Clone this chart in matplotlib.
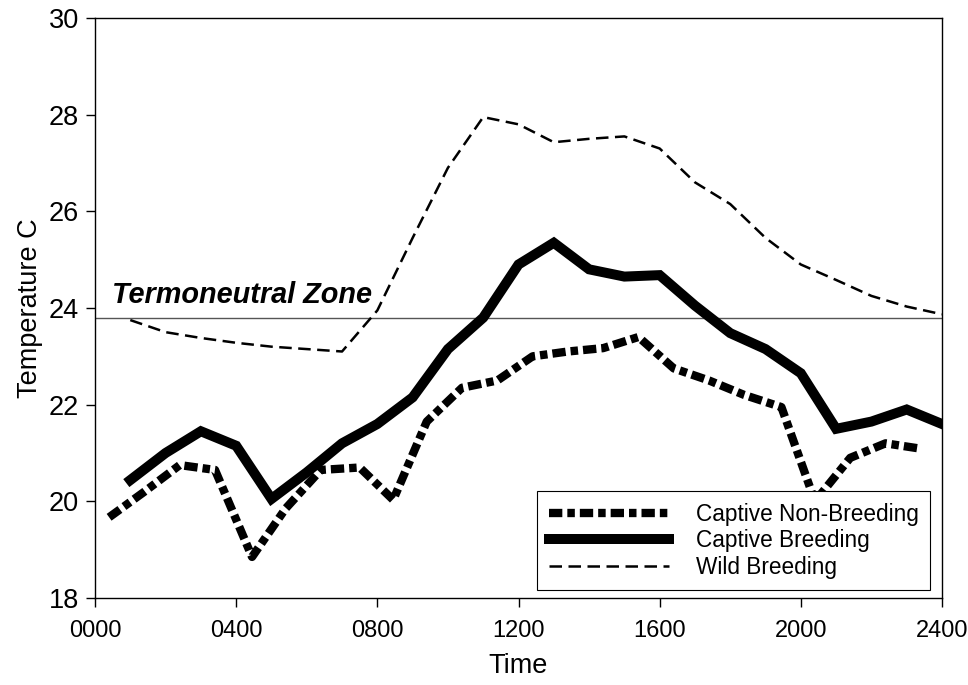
import matplotlib
matplotlib.use("Agg")
import matplotlib.pyplot as plt
from matplotlib.ticker import FixedLocator
from matplotlib import font_manager

# ---- data (hours of day) ----
hours = [1, 2, 3, 4, 5, 6, 7, 8, 9, 10, 11, 12, 13, 14, 15, 16, 17, 18, 19, 20, 21, 22, 23, 24]
wild_breeding = [23.75, 23.5, 23.38, 23.28, 23.2, 23.15, 23.1, 23.95, 25.45, 26.9, 27.95, 27.8,
                 27.43, 27.5, 27.55, 27.3, 26.6, 26.15, 25.45, 24.9, 24.58, 24.25, 24.03, 23.87]
captive_breeding = [20.44, 21.0, 21.45, 21.15, 20.05, 20.6, 21.2, 21.6, 22.15, 23.15, 23.8, 24.9,
                    25.35, 24.8, 24.65, 24.68, 24.05, 23.48, 23.15, 22.65, 21.5, 21.65, 21.9, 21.6]
nb_hours = [0.4, 1.4, 2.4, 3.4, 4.45, 5.4, 6.4, 7.5, 8.45, 9.4, 10.4, 11.4, 12.4, 13.4, 14.4,
            15.4, 16.4, 17.4, 18.4, 19.45, 20.4, 21.4, 22.4, 23.3]
captive_nonbreeding = [19.67, 20.2, 20.75, 20.65, 18.85, 19.85, 20.65, 20.7, 20.03, 21.65, 22.35,
                       22.5, 23.0, 23.1, 23.17, 23.4, 22.75, 22.5, 22.2, 21.95, 20.0, 20.9, 21.2, 21.1]
thermoneutral = 23.8
xticks = [0, 4, 8, 12, 16, 20, 24]
xticklabels = ["0000", "0400", "0800", "1200", "1600", "2000", "2400"]
yticks = [18, 20, 22, 24, 26, 28, 30]

plt.rcParams['font.family'] = ['Liberation Sans', 'DejaVu Sans']

# condensed font for x tick labels if available
narrow_ok = False
try:
    p = font_manager.findfont(font_manager.FontProperties(family='Liberation Sans Narrow'),
                              fallback_to_default=False)
    narrow_ok = 'Narrow' in p
except Exception:
    narrow_ok = False

fig = plt.figure(figsize=(9.68, 6.85), dpi=100)
ax = fig.add_axes([95/968, 1-598/685, (942-95)/968, (598-18)/685])

ax.axhline(thermoneutral, color='#555555', lw=1.0, zorder=1)
ax.text(0.48, 24.1, "Termoneutral Zone", fontsize=20.8, fontweight='bold',
        fontstyle='italic', ha='left', va='baseline')

l1, = ax.plot(nb_hours, captive_nonbreeding, color='black', lw=6,
              linestyle=(0, (1.6, 0.6, 0.9, 0.6)), dash_capstyle='butt',
              solid_joinstyle='miter', label='Captive Non-Breeding', zorder=3)
l2, = ax.plot(hours, captive_breeding, color='black', lw=7.2, solid_joinstyle='miter',
              label='Captive Breeding', zorder=3)
l3, = ax.plot(hours, wild_breeding, color='black', lw=1.8, linestyle=(0, (5, 2.6)),
              label='Wild Breeding', zorder=3)

ax.set_xlim(0, 24)
ax.set_ylim(18, 30)
ax.xaxis.set_major_locator(FixedLocator(xticks))
ax.set_xticklabels(xticklabels)
ax.yaxis.set_major_locator(FixedLocator(yticks))
ax.tick_params(axis='both', direction='out', length=6.5, width=1.0, labelsize=19.5, pad=5)
ax.tick_params(axis='x', pad=9)
for lab in ax.get_xticklabels():
    if narrow_ok:
        lab.set_family(['Liberation Sans Narrow', 'DejaVu Sans'])
        lab.set_fontsize(20)
    else:
        lab.set_fontsize(17)
for sp in ax.spines.values():
    sp.set_linewidth(1.0)

ax.set_xlabel("Time", fontsize=19.5, labelpad=8)
ax.set_ylabel("Temperature C", fontsize=19.5, labelpad=4)

leg = ax.legend(handles=[l1, l2, l3], loc='lower right', bbox_to_anchor=(0.986, 0.014),
                fontsize=16.3, frameon=True, fancybox=False, edgecolor='black',
                framealpha=1, handlelength=5.3, handletextpad=1.2, labelspacing=0.15,
                borderpad=0.5, borderaxespad=0)
leg.get_frame().set_linewidth(0.8)
leg.set_zorder(5)

fig.savefig("out.png", dpi=100)
